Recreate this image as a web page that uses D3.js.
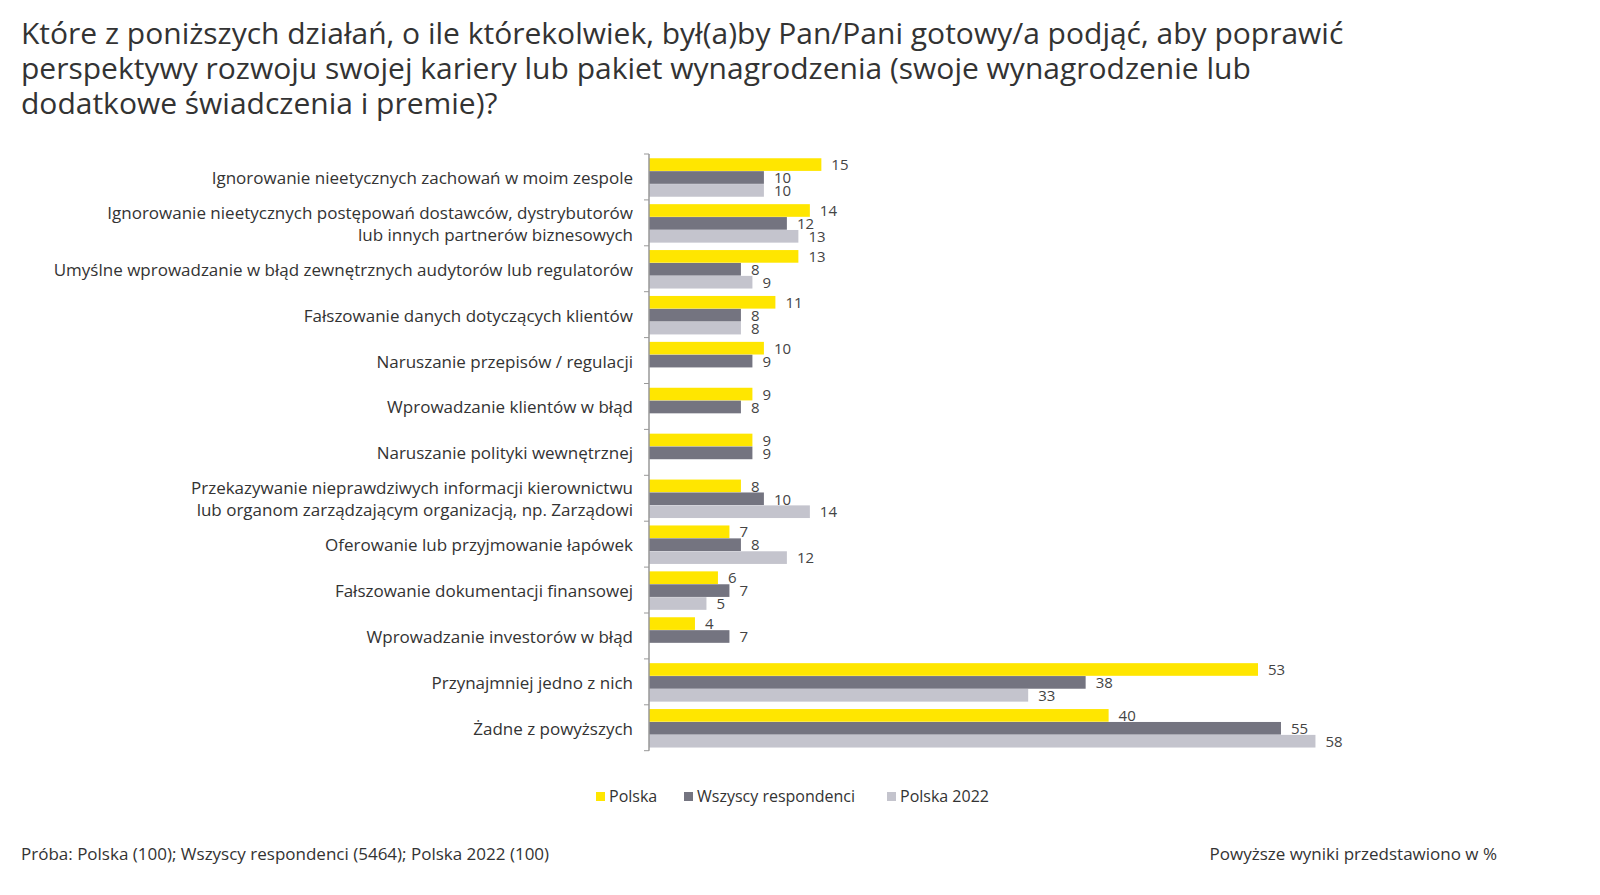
<!DOCTYPE html>
<html lang="pl">
<head>
<meta charset="UTF-8">
<script src="https://d3js.org/d3.v7.min.js"></script>
<style>
  body { margin: 0; background: #fff; font-family: "Open Sans", "Noto Sans", sans-serif; }
  text { fill: #333; }
</style>
</head>
<body>
<svg width="1600" height="895"></svg>
<script>
// data
const categories = [
  "Ignorowanie nieetycznych zachowań w moim zespole",
  "Ignorowanie nieetycznych postępowań dostawców, dystrybutorów\nlub innych partnerów biznesowych",
  "Umyślne wprowadzanie w błąd zewnętrznych audytorów lub regulatorów",
  "Fałszowanie danych dotyczących klientów",
  "Naruszanie przepisów / regulacji",
  "Wprowadzanie klientów w błąd",
  "Naruszanie polityki wewnętrznej",
  "Przekazywanie nieprawdziwych informacji kierownictwu\nlub organom zarządzającym organizacją, np. Zarządowi",
  "Oferowanie lub przyjmowanie łapówek",
  "Fałszowanie dokumentacji finansowej",
  "Wprowadzanie investorów w błąd",
  "Przynajmniej jedno z nich",
  "Żadne z powyższych"
];
const polska    = [15, 14, 13, 11, 10, 9, 9, 8, 7, 6, 4, 53, 40];
const wszyscy   = [10, 12, 8, 8, 9, 8, 9, 10, 8, 7, 7, 38, 55];
const polska22  = [10, 13, 9, 8, null, null, null, 14, 12, 5, null, 33, 58];
const seriesNames = ["Polska", "Wszyscy respondenci", "Polska 2022"];
const colors = ["#FFE600", "#747480", "#C4C4CD"];

const svg = d3.select("svg");
const x0 = 649, topY = 154, groupH = 45.9;

const x = d3.scaleLinear().domain([0, 53]).range([x0, 1258]);
const y = d3.scaleBand().domain(d3.range(categories.length))
  .range([topY, topY + groupH * categories.length]);
const ySub = d3.scaleBand().domain([0, 1, 2]).range([4, 43]).padding(0.02);

// title
const title = [
  "Które z poniższych działań, o ile którekolwiek, był(a)by Pan/Pani gotowy/a podjąć, aby poprawić",
  "perspektywy rozwoju swojej kariery lub pakiet wynagrodzenia (swoje wynagrodzenie lub",
  "dodatkowe świadczenia i premie)?"
];
svg.append("g").selectAll("text").data(title).join("text")
  .attr("x", 21).attr("y", (d, i) => 44 + i * 35)
  .style("font-size", "30px").text(d => d);

// bars
const series = [polska, wszyscy, polska22];
series.forEach((vals, s) => {
  const g = svg.append("g");
  vals.forEach((v, i) => {
    if (v == null) return;
    const yy = y(i) + ySub(s);
    g.append("rect").attr("x", x0).attr("y", yy)
      .attr("width", x(v) - x0).attr("height", ySub.bandwidth())
      .attr("fill", colors[s]);
    g.append("text").attr("x", x(v) + 10).attr("y", yy + ySub.bandwidth() / 2)
      .attr("dy", "0.38em").style("font-size", "15px").style("fill", "#444").text(v);
  });
});

// axis
const axis = svg.append("g");
axis.append("line").attr("x1", x0).attr("x2", x0)
  .attr("y1", topY).attr("y2", topY + groupH * categories.length)
  .attr("stroke", "#999").attr("stroke-width", 1.5);
d3.range(categories.length + 1).forEach(i => {
  const yy = topY + i * groupH;
  axis.append("line").attr("x1", x0 - 5).attr("x2", x0).attr("y1", yy).attr("y2", yy)
    .attr("stroke", "#999");
});

// category labels
categories.forEach((c, i) => {
  const lines = c.split("\n");
  const cy = y(i) + groupH / 2 + 1;
  lines.forEach((l, j) => {
    svg.append("text").attr("x", 633)
      .attr("y", cy + (j - (lines.length - 1) / 2) * 22)
      .attr("dy", "0.35em").attr("text-anchor", "end")
      .style("font-size", "17px").text(l);
  });
});

// legend
const legX = [596, 684, 887];
seriesNames.forEach((n, i) => {
  svg.append("rect").attr("x", legX[i]).attr("y", 792).attr("width", 9).attr("height", 9)
    .attr("fill", colors[i]);
  svg.append("text").attr("x", legX[i] + 13).attr("y", 796).attr("dy", "0.35em")
    .style("font-size", "16px").text(n);
});

// footer
svg.append("text").attr("x", 21).attr("y", 860).style("font-size", "17px")
  .text("Próba: Polska (100); Wszyscy respondenci (5464); Polska 2022 (100)");
svg.append("text").attr("x", 1497).attr("y", 860).attr("text-anchor", "end")
  .style("font-size", "17px").text("Powyższe wyniki przedstawiono w %");
</script>
</body>
</html>
